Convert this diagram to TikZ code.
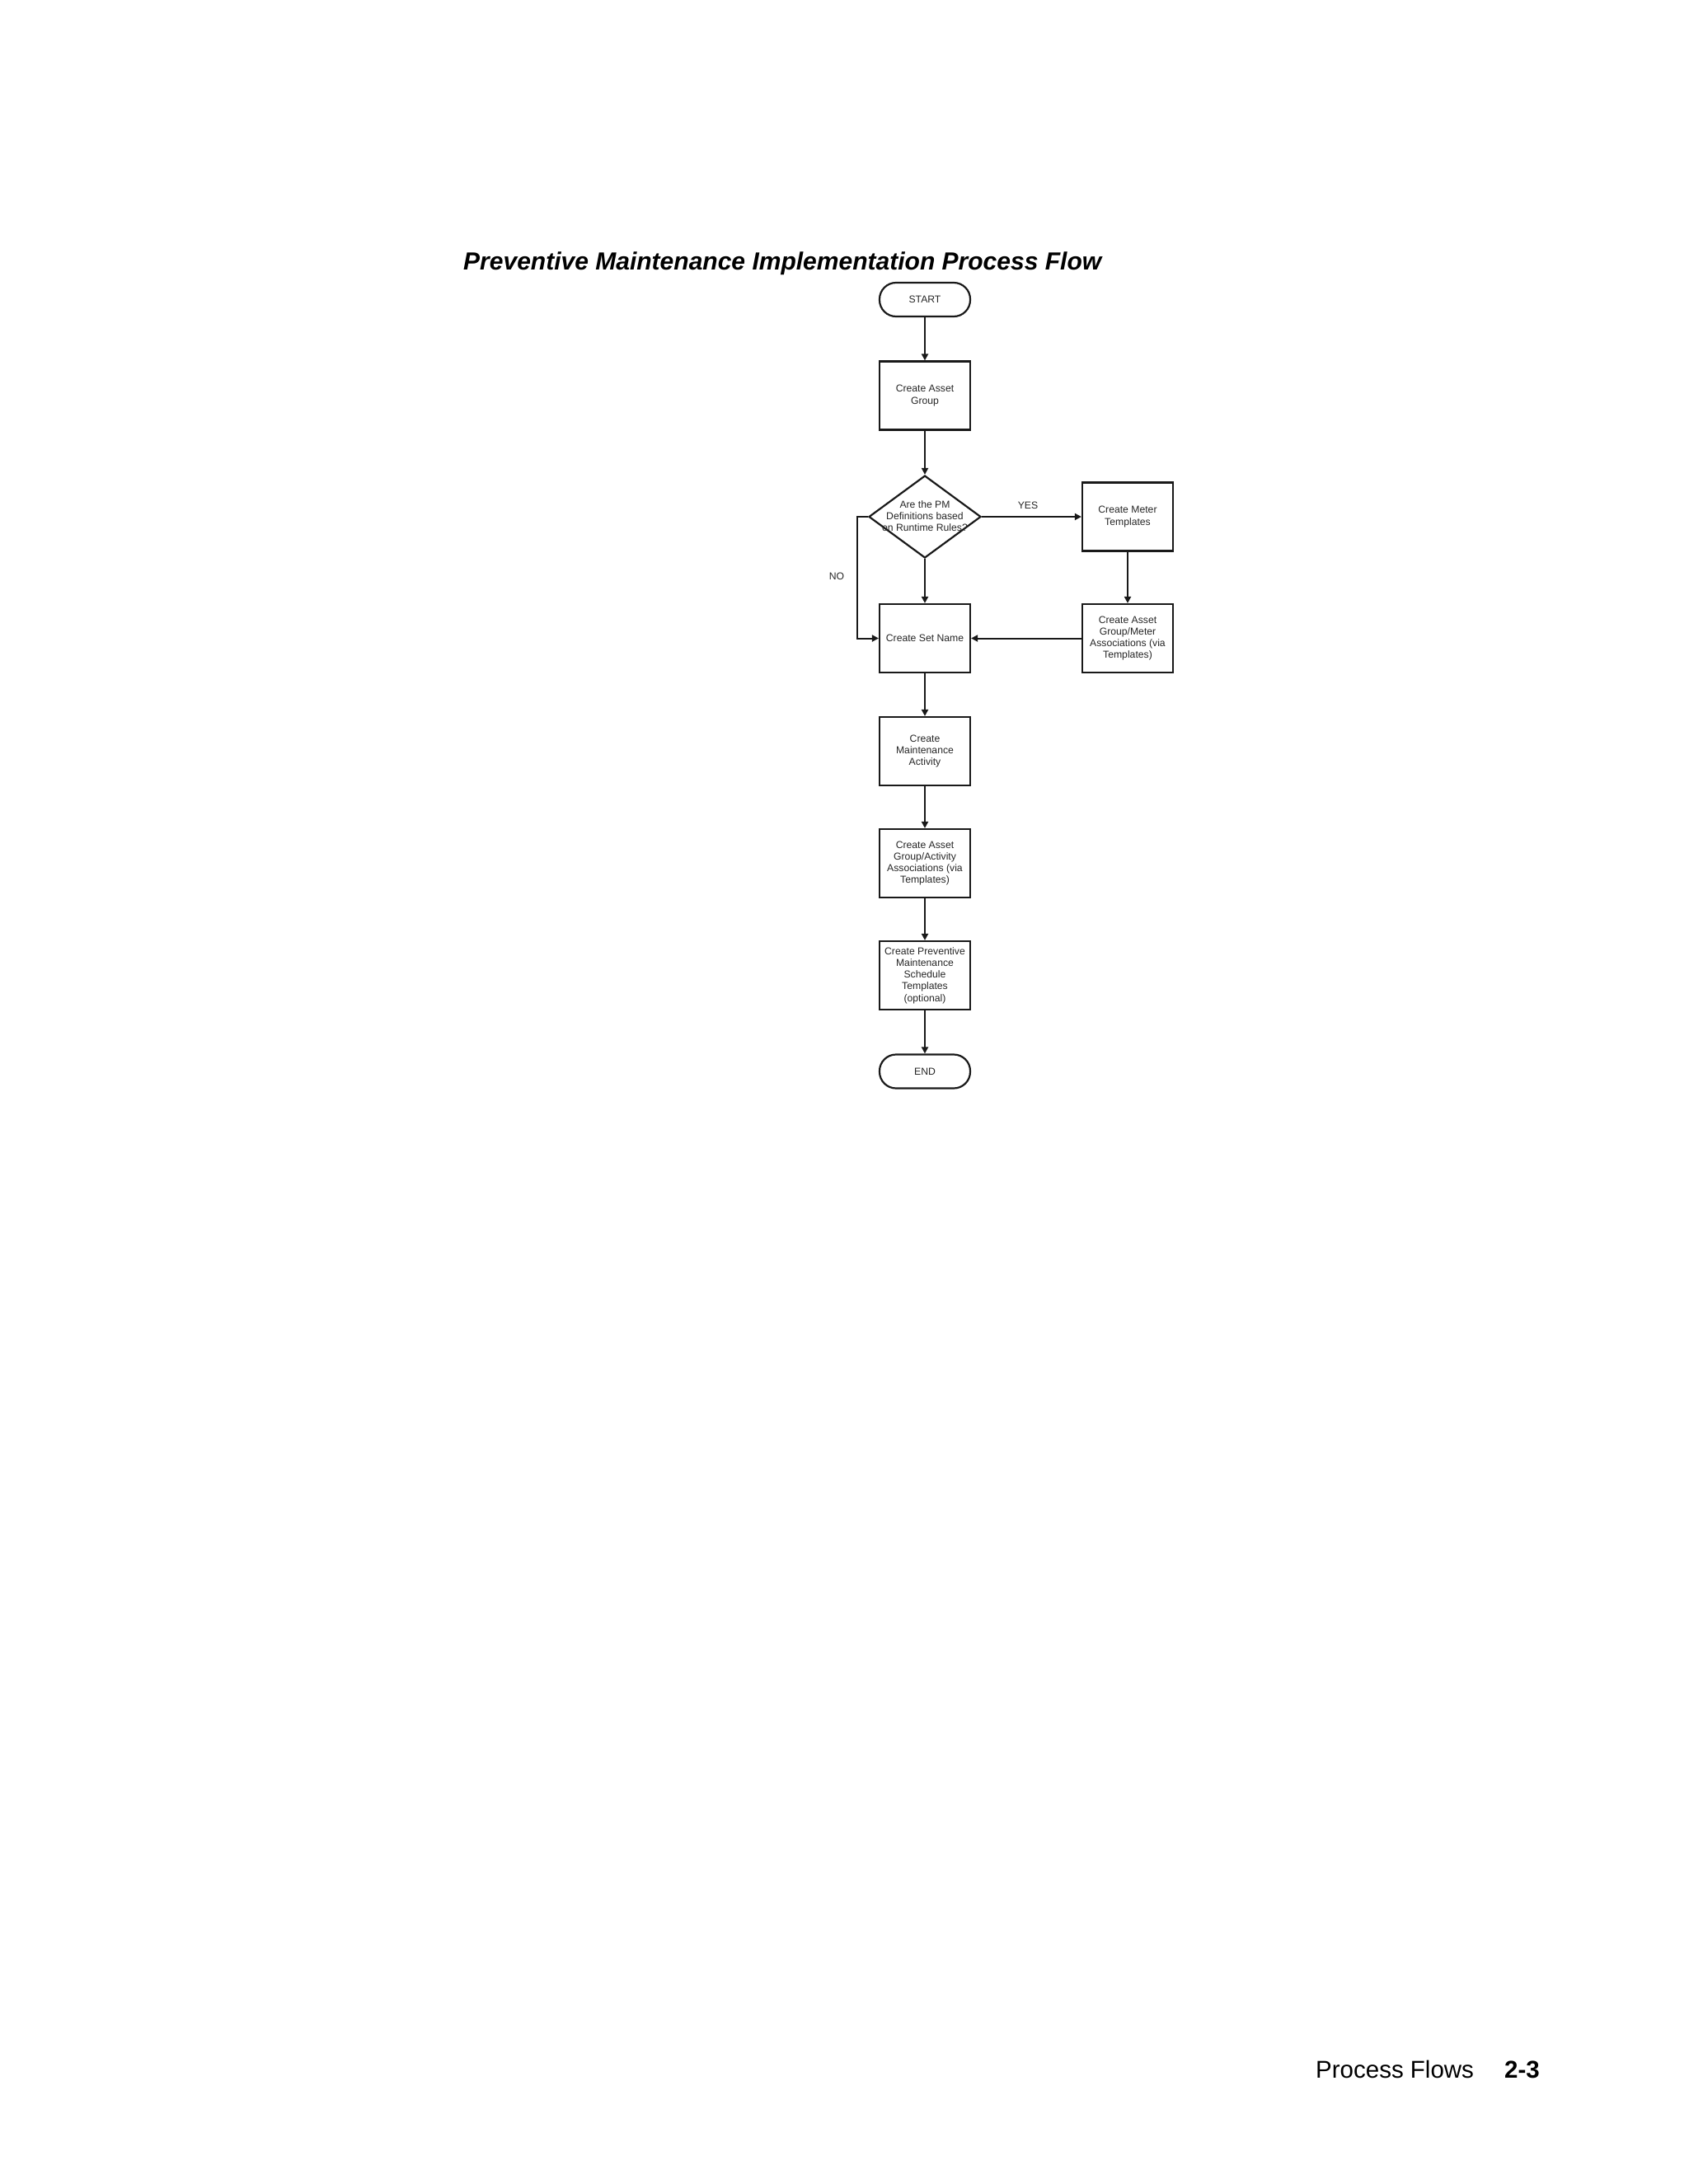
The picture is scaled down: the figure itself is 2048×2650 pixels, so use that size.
\documentclass[tikz,border=0pt]{standalone}
\usepackage{fontspec}
\setmainfont{Liberation Sans}
\usetikzlibrary{arrows.meta,shapes.geometric}
\newcommand\pmboxfont{\fontsize{12.2}{14.3}\selectfont\color{black!85}}
\begin{document}
\begin{tikzpicture}[x=1pt,y=-1pt,
  proc/.style={draw=black!90, line width=2.2pt, minimum width=110pt, minimum height=83pt, inner sep=0pt, align=center, font=\pmboxfont},
  term/.style={draw=black!90, line width=2.2pt, rounded corners=20pt, minimum width=110pt, minimum height=41pt, inner sep=0pt, font=\pmboxfont},
  decision/.style={diamond, draw=black!90, line width=2.2pt, minimum width=136pt, minimum height=100pt, inner sep=0pt},
  lbl/.style={font=\pmboxfont, align=center, inner sep=0pt},
  conn/.style={line width=2pt, draw=black!90, -{Triangle[length=8pt,width=8pt]}}]
\useasboundingbox (0,0) rectangle (2048,2650);

\node[anchor=base west, inner sep=0pt] (title) at (562,327)
  {\resizebox{774pt}{!}{\fontsize{29.5}{35}\selectfont\bfseries\itshape Preventive Maintenance Implementation Process Flow}};

\node[term] (start) at (1122,363.5) {START};
\node[proc] (ag) at (1122,480) {Create Asset\\Group};
\node[decision] (dec) at (1122,627) {};
\node[lbl] (dect) at (1122,626) {Are the PM\\Definitions based\\on Runtime Rules?};
\node[proc] (meter) at (1368,627) {Create Meter\\Templates};
\node[proc] (sn) at (1122,774.5) {Create Set Name};
\node[proc] (am) at (1368,774.5) {Create Asset\\Group/Meter\\Associations (via\\Templates)};
\node[proc] (ma) at (1122,911.5) {Create\\Maintenance\\Activity};
\node[proc] (aa) at (1122,1047.5) {Create Asset\\Group/Activity\\Associations (via\\Templates)};
\node[proc] (pm) at (1122,1183.5) {Create Preventive\\Maintenance\\Schedule\\Templates\\(optional)};
\node[term] (end) at (1122,1300) {END};

\node[lbl] (yes) at (1247,613) {YES};
\node[lbl] (no) at (1015,699) {NO};
\coordinate (nocorner) at (1040,627);

\draw[conn] (start) -- (ag);
\draw[conn] (ag) -- (dec);
\draw[conn] (dec.east) -- (meter.west);
\draw[conn] (dec.south) -- (sn);
\draw[conn] (meter) -- (am);
\draw[conn] (am.west) -- (sn.east);
\draw[conn] (dec.west) -- (nocorner) |- (sn.west);
\draw[conn] (sn) -- (ma);
\draw[conn] (ma) -- (aa);
\draw[conn] (aa) -- (pm);
\draw[conn] (pm) -- (end);

\node[anchor=base west, inner sep=0pt, font=\fontsize{29.5}{35}\selectfont] (ft) at (1596,2521) {Process Flows};
\node[anchor=base west, inner sep=0pt, font=\fontsize{29.5}{35}\selectfont\bfseries] (pg) at (1825,2521) {2-3};
\end{tikzpicture}
\end{document}
